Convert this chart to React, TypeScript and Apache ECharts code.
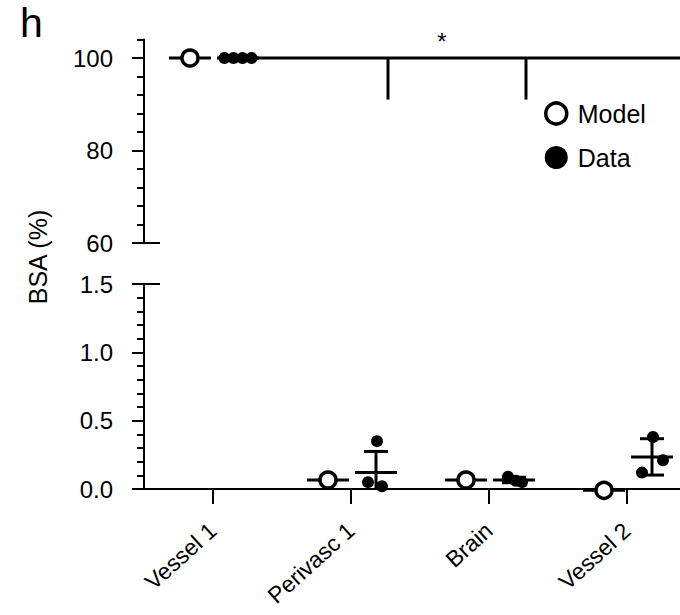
import React, { useEffect, useRef } from "react";
import * as echarts from "echarts";

// ---------- data ----------
const categories = ["Vessel 1", "Perivasc 1", "Brain", "Vessel 2"];
const modelValues = [100, 0.066, 0.066, -0.01];
const dataPoints = [
  [100, 100, 100, 100],
  [0.35, 0.05, 0.02],
  [0.09, 0.06, 0.05],
  [0.12, 0.38, 0.21],
];
const dataMean = [100, 0.12, 0.066, 0.235];
const dataSD = [0, 0.155, 0.02, 0.133];
const topRange = [60, 104];
const bottomRange = [0, 1.5];
const topLabelTicks = [60, 80, 100];
const bottomLabelTicks = [0, 0.5, 1.0, 1.5];
const bracketLevel = 100;
const bracketDrop = 91;
const bracketPair = [1, 2];
const bracketMark = "*";
const yAxisName = "BSA (%)";
const panelLabel = "h";
const legendNames = ["Model", "Data"];

// ---------- layout / style constants ----------
const FONT = "'Liberation Sans', Arial, Helvetica, sans-serif";
const MODEL_DX = -23;
const DATA_DX = 25;
const HALF_LINE = 21;
const HALF_CAP = 12;
const LINE_W = 3;
const jitterPx = [
  [-13.5, -4.5, 4.5, 13.5],
  [1, -8, 6],
  [-6, 2, 8],
  [-10, 1, 11],
];
const BRACKET_DX = 37;

const lineStyle = { stroke: "#000", lineWidth: LINE_W };

function inRange(v: number, r: number[]) {
  return v >= r[0] - 0.05 && v <= r[1];
}

function buildPanelSeries(p: number, range: number[]) {
  const xAxisIndex = p;
  const yAxisIndex = p * 3;
  const series: any[] = [];
  series.push({
    type: "custom",
    xAxisIndex,
    yAxisIndex,
    z: 2,
    clip: false,
    silent: true,
    data: modelValues.map((v, i) => [i, v]).filter((d) => inRange(d[1], range)),
    renderItem: (params: any, api: any) => {
      const c = api.coord([api.value(0), api.value(1)]);
      const x = c[0] + MODEL_DX;
      return {
        type: "line",
        shape: { x1: x - HALF_LINE, y1: c[1], x2: x + HALF_LINE, y2: c[1] },
        style: lineStyle,
      };
    },
  });
  series.push({
    type: "custom",
    xAxisIndex,
    yAxisIndex,
    z: 2,
    clip: false,
    silent: true,
    data: dataMean.map((m, i) => [i, m, dataSD[i]]).filter((d) => inRange(d[1], range)),
    renderItem: (params: any, api: any) => {
      const ci = api.value(0);
      const m = api.value(1);
      const sd = api.value(2);
      const cs = params.coordSys;
      const c = api.coord([ci, m]);
      const x = c[0] + DATA_DX;
      const bottomY = cs.y + cs.height;
      const children: any[] = [
        {
          type: "line",
          shape: { x1: x - HALF_LINE, y1: c[1], x2: x + HALF_LINE, y2: c[1] },
          style: lineStyle,
        },
      ];
      if (sd > 0) {
        const yHi = api.coord([ci, m + sd])[1];
        const yLoRaw = api.coord([ci, m - sd])[1];
        const yLo = Math.min(yLoRaw, bottomY);
        children.push({ type: "line", shape: { x1: x, y1: yHi, x2: x, y2: yLo }, style: lineStyle });
        children.push({
          type: "line",
          shape: { x1: x - HALF_CAP, y1: yHi, x2: x + HALF_CAP, y2: yHi },
          style: lineStyle,
        });
        if (yLoRaw <= bottomY) {
          children.push({
            type: "line",
            shape: { x1: x - HALF_CAP, y1: yLo, x2: x + HALF_CAP, y2: yLo },
            style: lineStyle,
          });
        }
      }
      return { type: "group", children };
    },
  });
  series.push({
    type: "scatter",
    name: legendNames[0],
    xAxisIndex,
    yAxisIndex,
    z: 4,
    clip: false,
    symbol: "circle",
    symbolSize: 16,
    itemStyle: { color: "#fff", borderColor: "#000", borderWidth: 3.5, opacity: 1 },
    data: modelValues
      .map((v, i) => ({ value: [i, v], symbolOffset: [MODEL_DX, 0] }))
      .filter((d) => inRange(d.value[1], range)),
  });
  const pts: any[] = [];
  dataPoints.forEach((arr, i) => {
    arr.forEach((v, k) => {
      if (inRange(v, range)) {
        pts.push({ value: [i, v], symbolOffset: [DATA_DX + jitterPx[i][k], 0] });
      }
    });
  });
  series.push({
    type: "scatter",
    name: legendNames[1],
    xAxisIndex,
    yAxisIndex,
    z: 4,
    clip: false,
    symbol: "circle",
    symbolSize: 12,
    itemStyle: { color: "#000", opacity: 1 },
    data: pts,
  });
  return series;
}

function bracketSeries() {
  return {
    type: "custom",
    xAxisIndex: 0,
    yAxisIndex: 0,
    z: 3,
    clip: false,
    silent: true,
    data: [[bracketPair[0], bracketPair[1], bracketLevel, bracketDrop]],
    renderItem: (params: any, api: any) => {
      const a = api.value(0);
      const b = api.value(1);
      const lvl = api.value(2);
      const drop = api.value(3);
      const cs = params.coordSys;
      const start = api.coord([0, lvl]);
      const pa = api.coord([a, lvl]);
      const pb = api.coord([b, lvl]);
      const yDrop = api.coord([a, drop])[1];
      const xa = pa[0] + BRACKET_DX;
      const xb = pb[0] + BRACKET_DX;
      return {
        type: "group",
        children: [
          {
            type: "line",
            shape: { x1: start[0] + DATA_DX, y1: start[1], x2: cs.x + cs.width, y2: start[1] },
            style: lineStyle,
          },
          { type: "line", shape: { x1: xa, y1: pa[1], x2: xa, y2: yDrop }, style: lineStyle },
          { type: "line", shape: { x1: xb, y1: pb[1], x2: xb, y2: yDrop }, style: lineStyle },
          {
            type: "text",
            x: (xa + xb) / 2 - 15,
            y: pa[1] - 17,
            style: {
              text: bracketMark,
              fontSize: 24,
              fontFamily: FONT,
              fill: "#000",
              textAlign: "center",
              textVerticalAlign: "middle",
            },
          },
        ],
      };
    },
  };
}

function yAxesFor(
  gridIndex: number,
  range: number[],
  labelTicks: number[],
  interval: number,
  fmt: (v: number) => string
) {
  const base = {
    gridIndex,
    type: "value",
    position: "left",
    min: range[0],
    max: range[1],
    splitLine: { show: false },
  };
  return [
    {
      ...base,
      interval,
      axisLine: { show: true, lineStyle: { color: "#000", width: 2 } },
      axisTick: { show: true, length: 7, lineStyle: { color: "#000", width: 2 } },
      axisLabel: {
        show: true,
        customValues: labelTicks,
        formatter: (v: number) => fmt(v),
        margin: 31,
        fontSize: 24,
        color: "#000",
        fontFamily: FONT,
      },
    },
    {
      ...base,
      axisLine: { show: false },
      axisTick: {
        show: true,
        customValues: labelTicks,
        length: 12,
        lineStyle: { color: "#000", width: 2 },
      },
      axisLabel: { show: false },
    },
    {
      ...base,
      axisLine: { show: false },
      axisTick: {
        show: true,
        inside: true,
        customValues: [gridIndex === 0 ? range[0] : range[1]],
        length: 16,
        lineStyle: { color: "#000", width: 2 },
      },
      axisLabel: { show: false },
    },
  ];
}

export default function App() {
  const ref = useRef<HTMLDivElement>(null);
  useEffect(() => {
    if (!ref.current) return;
    const chart = echarts.init(ref.current, undefined, { renderer: "svg" });
    const option: any = {
      animation: false,
      backgroundColor: "#fff",
      textStyle: { fontFamily: FONT },
      grid: [
        { left: 144, width: 552, top: 39.5, height: 203.5, containLabel: false, outerBoundsMode: "none" },
        { left: 144, width: 552, top: 284, height: 205, containLabel: false, outerBoundsMode: "none" },
      ],
      xAxis: [
        { gridIndex: 0, type: "category", data: categories, show: false },
        {
          gridIndex: 1,
          type: "category",
          data: categories,
          axisLine: { show: true, lineStyle: { color: "#000", width: 2 } },
          axisTick: {
            show: true,
            alignWithLabel: true,
            length: 15,
            lineStyle: { color: "#000", width: 2 },
          },
          axisLabel: {
            rotate: 42,
            margin: 38,
            fontSize: 23,
            color: "#000",
            fontFamily: FONT,
            interval: 0,
          },
        },
      ],
      yAxis: [
        ...yAxesFor(0, topRange, topLabelTicks, 4, (v) => String(v)),
        ...yAxesFor(1, bottomRange, bottomLabelTicks, 0.1, (v) => Number(v).toFixed(1)),
      ],
      legend: {
        left: 544,
        top: 101,
        padding: 0,
        orient: "vertical",
        itemWidth: 21,
        itemHeight: 21,
        itemGap: 19,
        selectedMode: false,
        textStyle: { fontSize: 25, color: "#000", fontFamily: FONT, padding: [0, 0, 0, 6] },
        data: [
          {
            name: legendNames[0],
            icon: "circle",
            itemStyle: { color: "#fff", borderColor: "#000", borderWidth: 3.5 },
          },
          {
            name: legendNames[1],
            icon: "circle",
            itemStyle: { color: "#000", borderColor: "#000", borderWidth: 2 },
          },
        ],
      },
      graphic: [
        {
          type: "text",
          left: 20,
          top: 2,
          style: { text: panelLabel, fontSize: 41, fontFamily: FONT, fill: "#000" },
        },
        {
          type: "text",
          x: 38,
          y: 257,
          rotation: Math.PI / 2,
          style: {
            text: yAxisName,
            fontSize: 25,
            fontFamily: FONT,
            fill: "#000",
            textAlign: "center",
            textVerticalAlign: "middle",
          },
        },
      ],
      series: [
        ...buildPanelSeries(0, topRange),
        ...buildPanelSeries(1, bottomRange),
        bracketSeries(),
      ],
    };
    chart.setOption(option);
    return () => chart.dispose();
  }, []);
  return (
    <div
      ref={ref}
      style={{ position: "fixed", left: 0, top: 0, width: 680, height: 615, background: "#fff" }}
    />
  );
}
